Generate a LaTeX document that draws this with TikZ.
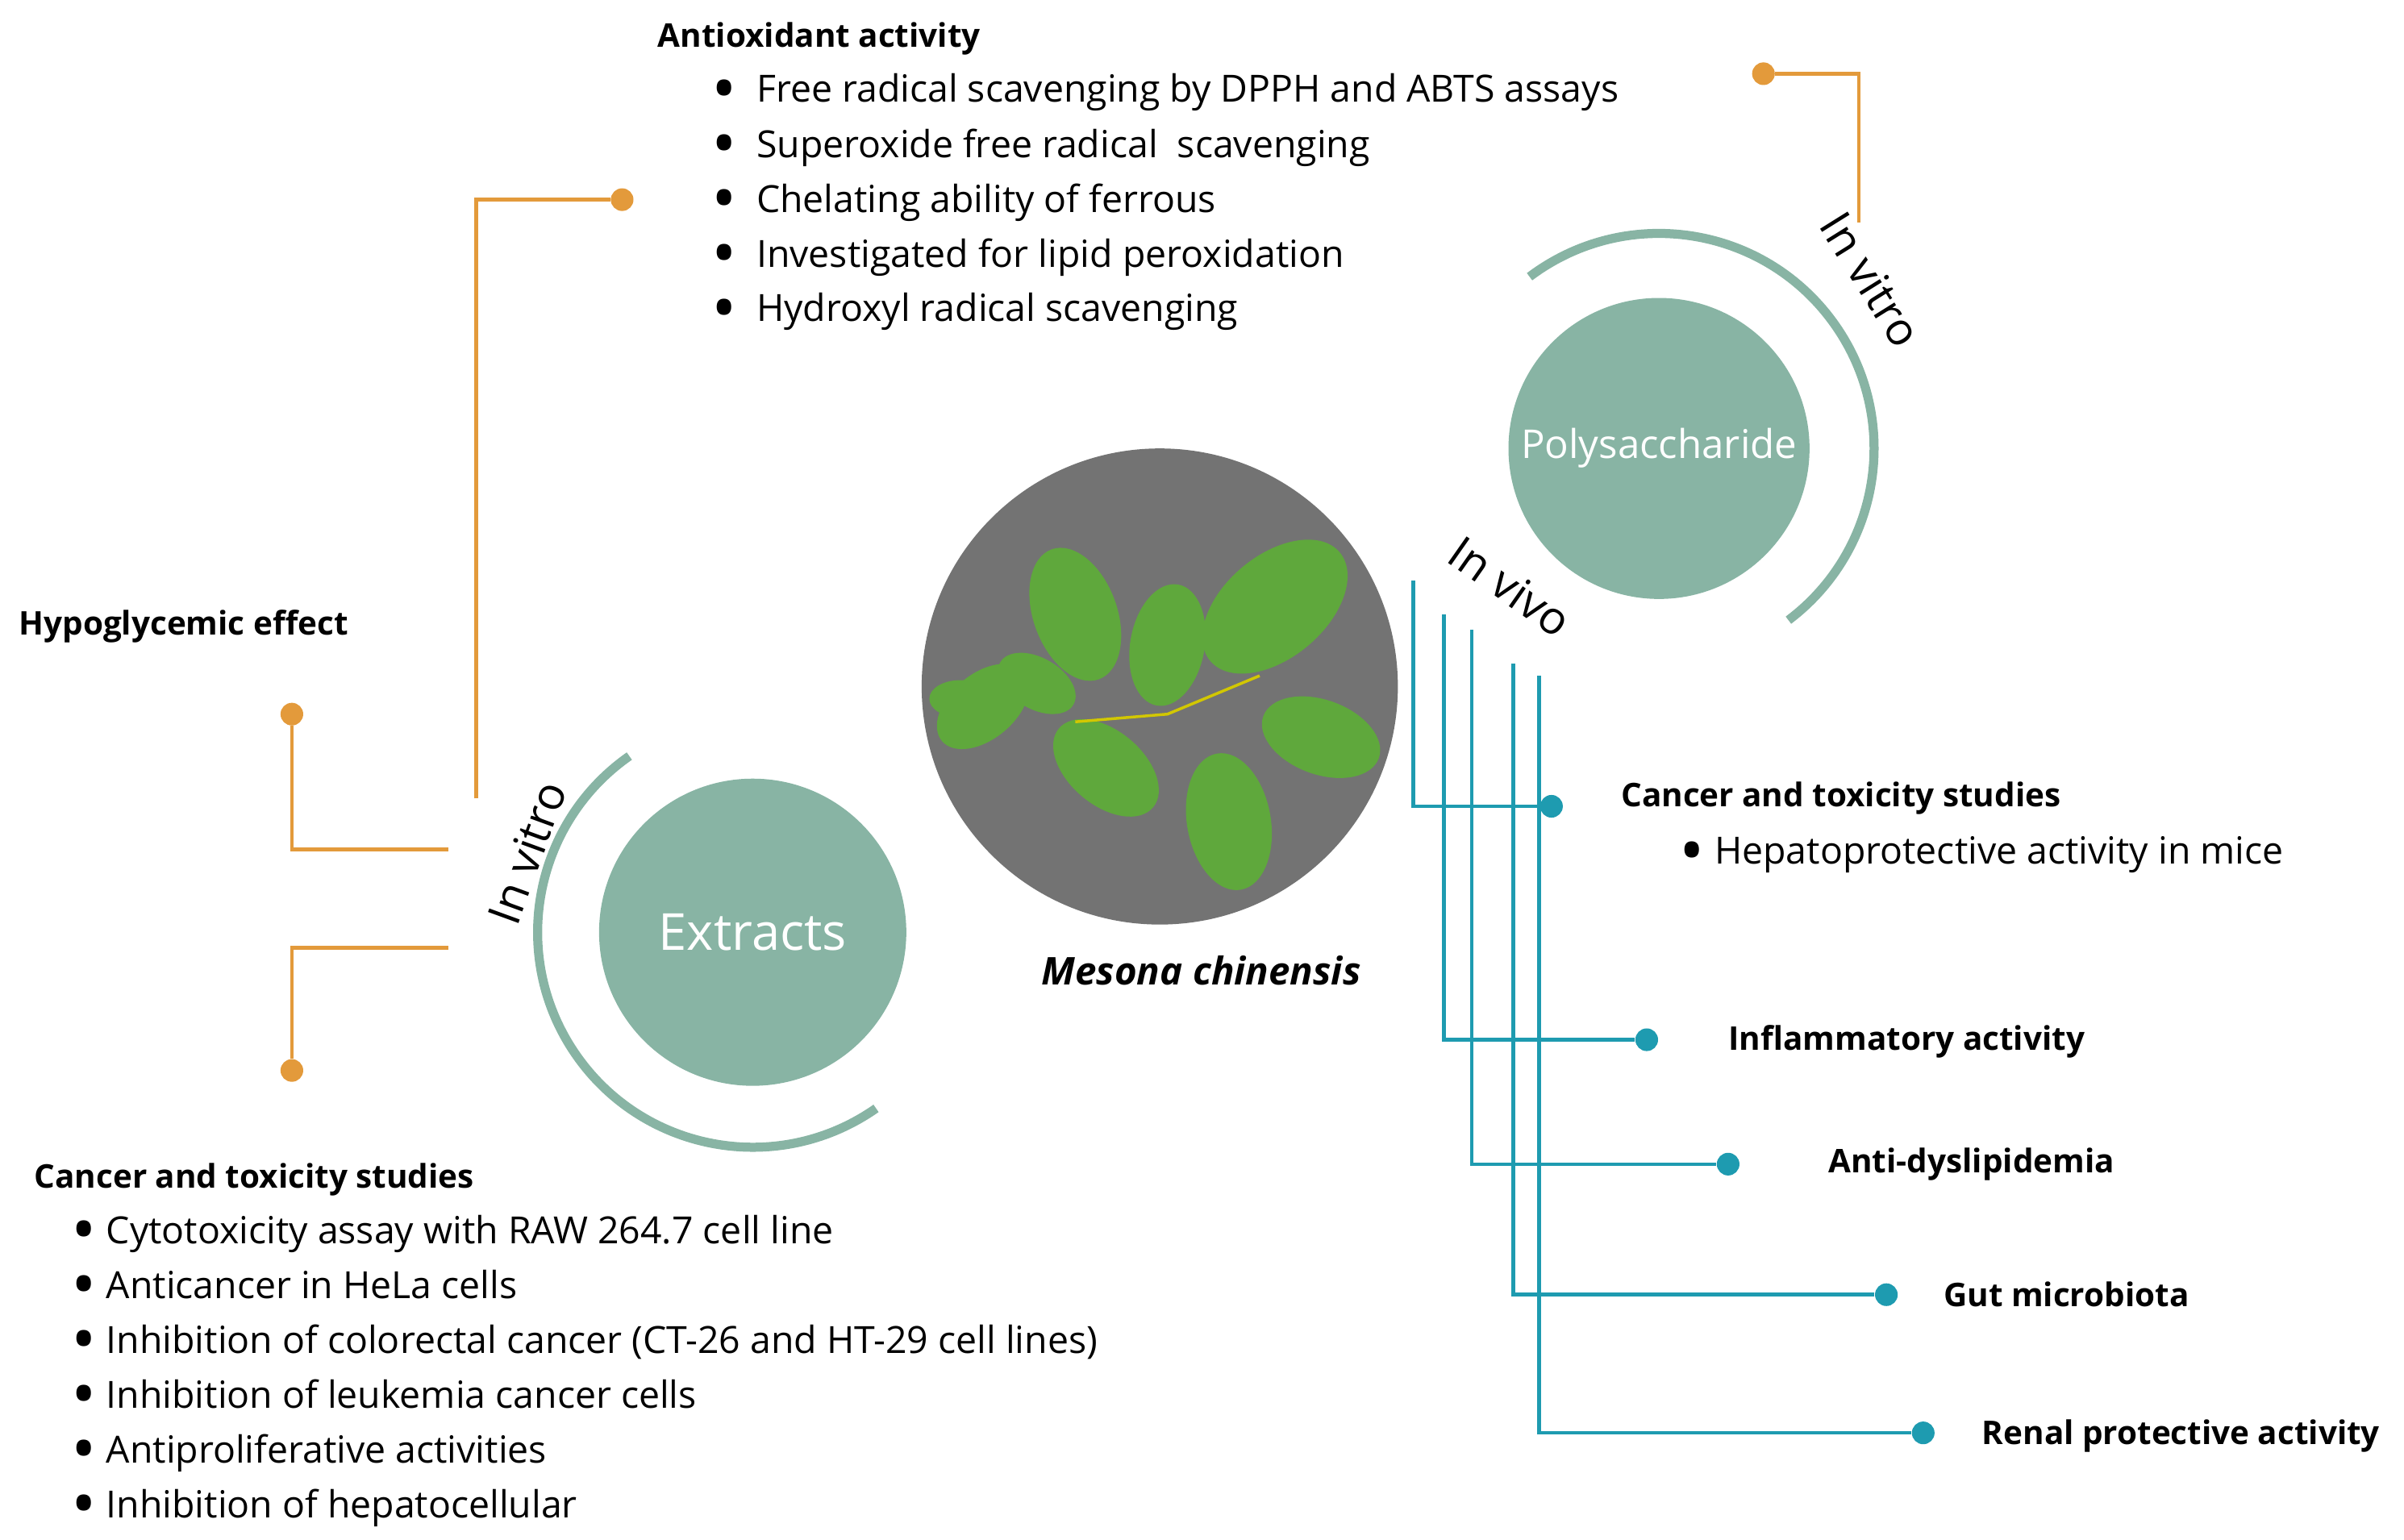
\documentclass[tikz,border=0pt]{standalone}
\usepackage{fontspec}
\setmainfont{Open Sans}
\begin{document}
\begin{tikzpicture}[x=0.01905cm,y=-0.01905cm,
  teal/.style={fill=tealc,draw=none},
  arcst/.style={draw=tealc,line width=3.2pt},
  org/.style={draw=orangec,line width=1.3pt},
  blu/.style={draw=bluec,line width=1.3pt},
  odot/.style={circle,fill=orangec,inner sep=0pt,minimum size=8pt},
  bdot/.style={circle,fill=bluec,inner sep=0pt,minimum size=8pt},
  head/.style={anchor=west,font=\fontsize{11.5}{13}\selectfont\bfseries,inner sep=0pt},
  item/.style={anchor=west,font=\fontsize{13.2}{14}\selectfont,inner sep=0pt},
  lbl/.style={font=\fontsize{16}{18}\selectfont}]
\definecolor{tealc}{HTML}{88B4A4}
\definecolor{orangec}{HTML}{E39A3B}
\definecolor{bluec}{HTML}{1E9BB0}
\definecolor{leaf}{HTML}{5FA83C}
\newcommand{\bul}{\raisebox{-0.27em}{\scalebox{1.8}{\textbullet}}}
\useasboundingbox (0,0) rectangle (1565,1002.6);
% Extracts
\node[circle,teal,minimum size=200*0.01905cm] (ext) at (490,607) {};
\node[text=white,font=\fontsize{18}{20}\selectfont] at (ext) {Extracts};
\draw[arcst] (490,607) ++(235:140) arc[start angle=235,end angle=55,radius=140];
\node[lbl,rotate=70] (ev) at (343,555) {In vitro};
% Polysaccharide
\node[circle,teal,minimum size=196*0.01905cm] (pol) at (1080,292) {};
\node[text=white,font=\fontsize{14}{16}\selectfont] at (pol) {Polysaccharide};
\draw[arcst] (1080,292) ++(233:140) arc[start angle=233,end angle=413,radius=140];
\node[lbl,rotate=-58] (pv) at (1218,182) {In vitro};
\node[lbl,rotate=-35] (pvv) at (983,382) {In vivo};
% photo
\node[circle,fill=black!55,minimum size=310*0.01905cm] (ph) at (755,447) {};
\foreach \x/\y/\a/\l in {640/460/40/70, 700/400/110/90, 760/420/80/80, 830/395/40/110, 860/480/-20/80, 720/500/-40/80, 800/535/-80/90, 675/445/150/55, 625/455/0/40}
  \fill[leaf] (\x,\y) ellipse[x radius=\l/2,y radius=\l/3.3,rotate=\a];
\draw[yellow!60!olive,line width=1pt] (700,470) -- (760,465) -- (820,440);
\node[font=\fontsize{13.5}{15}\selectfont\bfseries\itshape] (mc) at (782,632) {Mesona chinensis};
% orange connectors
\node[odot] (o1) at (405,130) {};
\coordinate (c1) at (310,520);
\draw[org] (c1) -- (310,130) -- (o1);
\node[odot] (o2) at (190,465) {};
\coordinate (c2) at (292,553);
\draw[org] (c2) -- (190,553) -- (o2);
\node[odot] (o3) at (190,697) {};
\coordinate (c3) at (292,617);
\draw[org] (c3) -- (190,617) -- (o3);
\node[odot] (o4) at (1148,48) {};
\coordinate (c4) at (1210,145);
\draw[org] (o4) -- (1210,48) -- (c4);
% blue connectors
\node[bdot] (b1) at (1010,525) {};
\node[bdot] (b2) at (1072,677) {};
\node[bdot] (b3) at (1125,758) {};
\node[bdot] (b4) at (1228,843) {};
\node[bdot] (b5) at (1252,933) {};
\coordinate (s1) at (920,378);\coordinate (s2) at (940,400);\coordinate (s3) at (958,410);
\coordinate (s4) at (985,432);\coordinate (s5) at (1002,440);
\draw[blu] (s1) |- (b1);
\draw[blu] (s2) |- (b2);
\draw[blu] (s3) |- (b3);
\draw[blu] (s4) |- (b4);
\draw[blu] (s5) |- (b5);
% texts
\node[head] (h1) at (428,25) {Antioxidant activity};
\foreach \t [count=\i] in {Free radical scavenging by DPPH and ABTS assays,Superoxide free radical\ \ scavenging,Chelating ability of ferrous,Investigated for lipid peroxidation,Hydroxyl radical scavenging}
  \node[item] (a\i) at (463,25+\i*35.7) {\bul\ \ \t};
\node[head] (h2) at (12,408) {Hypoglycemic effect};
\node[head] (h3) at (22,768) {Cancer and toxicity studies};
\foreach \t [count=\i] in {Cytotoxicity assay with RAW 264.7 cell line,Anticancer in HeLa cells,Inhibition of colorectal cancer (CT-26 and HT-29 cell lines),Inhibition of leukemia cancer cells,Antiproliferative activities,Inhibition of hepatocellular}
  \node[item] (k\i) at (46,768+\i*35.7) {\bul\ \t};
\node[head] (h4) at (1055,520) {Cancer and toxicity studies};
\node[item] (h4a) at (1093,557) {\bul\ Hepatoprotective activity in mice};
\node[head] (h5) at (1125,678) {Inflammatory activity};
\node[head] (h6) at (1190,758) {Anti-dyslipidemia};
\node[head] (h7) at (1265,843) {Gut microbiota};
\node[head] (h8) at (1290,935) {Renal protective activity};
\end{tikzpicture}
\end{document}
